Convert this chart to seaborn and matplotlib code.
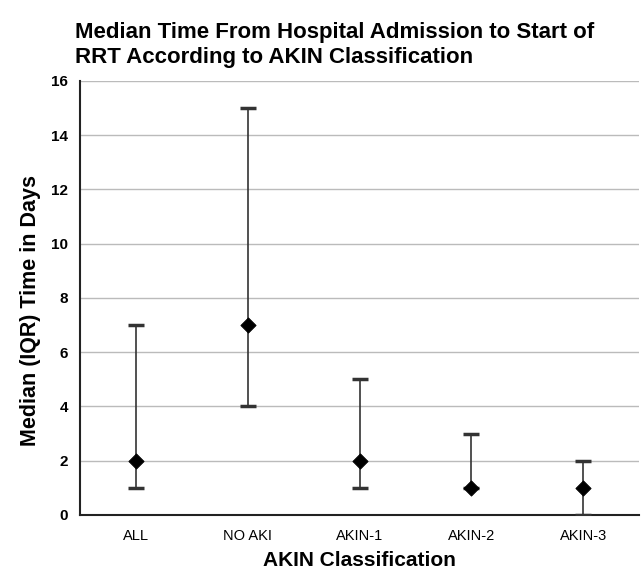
import numpy as np
import pandas as pd
import matplotlib.pyplot as plt
import seaborn as sns

# Data
groups = ["ALL", "NO AKI", "AKIN-1", "AKIN-2", "AKIN-3"]
median_days = [2, 7, 2, 1, 1]
q1_days = [1, 4, 1, 1, 0]
q3_days = [7, 15, 5, 3, 2]

df = pd.DataFrame({"group": groups, "median": median_days, "q1": q1_days, "q3": q3_days})

sns.set_style("white")
plt.rcParams["font.family"] = ["Liberation Sans", "DejaVu Sans"]
plt.rcParams["text.color"] = "black"
plt.rcParams["axes.labelcolor"] = "black"
plt.rcParams["xtick.color"] = "black"
plt.rcParams["ytick.color"] = "black"

fig = plt.figure(figsize=(6.41, 5.74), dpi=100)
ax = fig.add_axes([0.125, 0.103, 0.872, 0.756])

x = np.arange(len(groups))
ax.errorbar(x, df["median"],
            yerr=[df["median"] - df["q1"], df["q3"] - df["median"]],
            fmt="none", ecolor="#333333", elinewidth=1.2,
            capsize=6, capthick=2.5, zorder=3)
sns.scatterplot(data=df, x=x, y="median", marker="D", s=60, color="black",
                edgecolor="black", ax=ax, zorder=4, legend=False)

ax.set_xlim(-0.5, len(groups) - 0.5)
ax.set_ylim(0, 16)
ax.set_yticks(range(0, 17, 2))
ax.yaxis.grid(True, color="#bbbbbb", linewidth=1)
ax.set_axisbelow(True)

ax.set_xticks(x)
ax.set_xticklabels(groups, fontsize=10.5)
ax.set_xticks(np.arange(-0.5, len(groups)), minor=True)
ax.tick_params(axis="x", which="major", length=0, pad=10)
ax.tick_params(axis="x", which="minor", length=5, width=1.2, color="#222222", direction="out")
ax.tick_params(axis="y", length=5, width=1.2, color="#222222", direction="out", labelsize=11)
for lbl in ax.get_yticklabels():
    lbl.set_fontweight("bold")

for side in ["top", "right"]:
    ax.spines[side].set_visible(False)
for side in ["left", "bottom"]:
    ax.spines[side].set_color("#222222")
    ax.spines[side].set_linewidth(1.5)

ax.set_xlabel("AKIN Classification", fontsize=15, fontweight="bold", labelpad=6)
ax.set_ylabel("Median (IQR) Time in Days", fontsize=15.5, fontweight="bold")
ax.yaxis.set_label_coords(-0.07, 0.47)

fig.text(0.117, 0.961, "Median Time From Hospital Admission to Start of\nRRT According to AKIN Classification",
         fontsize=16, fontweight="bold", ha="left", va="top", linespacing=1.2)

fig.savefig("out.png", dpi=100)
